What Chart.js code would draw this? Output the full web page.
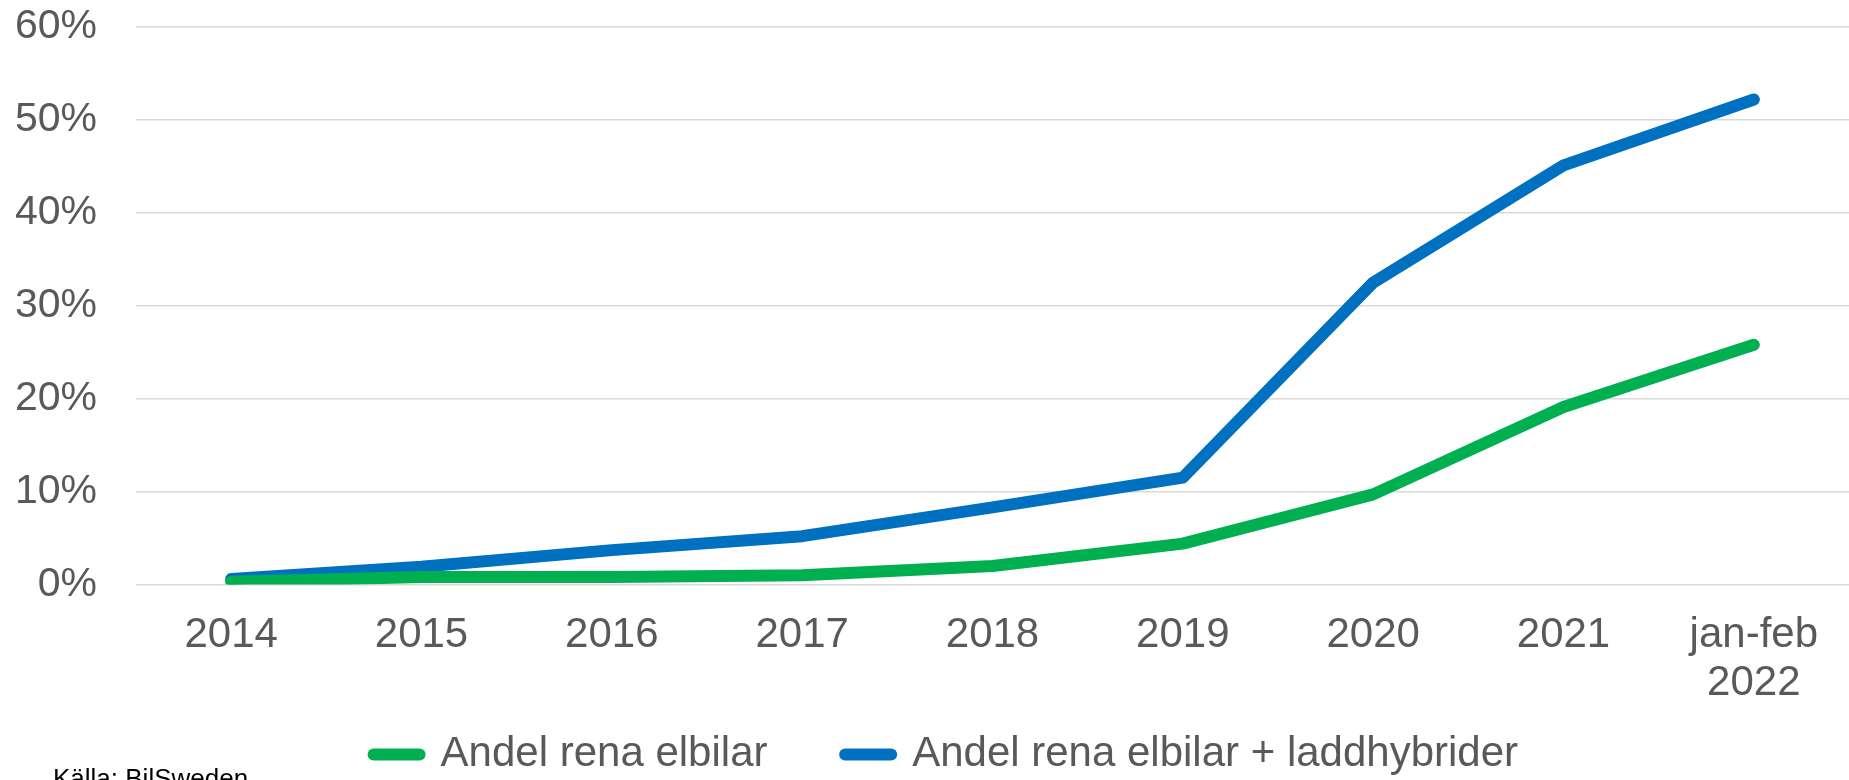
<!DOCTYPE html>
<html>
<head>
<meta charset="utf-8">
<script src="https://cdn.jsdelivr.net/npm/chart.js@4"></script>
<style>
  html, body { margin: 0; padding: 0; background: #fff; }
  #wrap { width: 1849px; height: 780px; position: relative; }
</style>
</head>
<body>
<div id="wrap"><canvas id="myChart" width="1849" height="780"></canvas></div>
<script>
// categories
const years = ['2014', '2015', '2016', '2017', '2018', '2019', '2020', '2021', ['jan-feb', '2022']];
// share of new cars, percent
const elbilar = [0.3, 0.8, 0.8, 1.0, 2.0, 4.4, 9.7, 19.1, 25.8];
const elbilarLaddhybrider = [0.6, 1.9, 3.7, 5.2, 8.3, 11.5, 32.5, 45.1, 52.2];
const seriesNames = ['Andel rena elbilar', 'Andel rena elbilar + laddhybrider'];
const yTicks = [0, 10, 20, 30, 40, 50, 60];
const source = 'Källa: BilSweden';

const grey = '#595959';
const sans = '"Liberation Sans", Arial, sans-serif';

// source note sits under the legend, half cut off by the bottom edge
const sourceNote = {
    id: 'sourceNote',
    afterDraw(chart) {
        const ctx = chart.ctx;
        ctx.save();
        ctx.font = '26px ' + sans;
        ctx.fillStyle = '#000';
        ctx.textBaseline = 'alphabetic';
        ctx.fillText(source, 53, 787);
        ctx.restore();
    }
};

function lineSeries(label, data, color) {
    return {
        label: label,
        data: data,
        borderColor: color,
        backgroundColor: color,
        borderWidth: 12,
        borderCapStyle: 'round',
        borderJoinStyle: 'round',
        pointRadius: 0,
        pointStyle: 'line',
        tension: 0
    };
}

let myChart = new Chart(document.getElementById('myChart').getContext('2d'), {
    type: 'line',
    data: {
        labels: years,
        datasets: [
            lineSeries(seriesNames[0], elbilar, '#00B050'),
            lineSeries(seriesNames[1], elbilarLaddhybrider, '#0070C0')
        ]
    },
    options: {
        responsive: false,
        animation: false,
        layout: { padding: { top: 27, right: 0, bottom: -5.5, left: 0 } },
        plugins: {
            tooltip: { enabled: false },
            legend: {
                position: 'bottom',
                fullSize: false,
                labels: {
                    usePointStyle: true,
                    pointStyleWidth: 46,
                    padding: 31,
                    color: grey,
                    font: { family: sans, size: 42 },
                    // labels.padding also sets the vertical spacing, so the gap
                    // between entries (and the centring) is tuned with spaces
                    generateLabels(chart) {
                        const items = Chart.defaults.plugins.legend.labels.generateLabels(chart);
                        items.forEach(item => { item.lineCap = 'round'; });
                        items[0].text += '    ';
                        items[1].text += '        ';
                        return items;
                    }
                }
            }
        },
        scales: {
            x: {
                offset: true,
                grid: { display: false, drawTicks: false },
                border: { display: false },
                ticks: {
                    padding: 27,
                    color: grey,
                    maxRotation: 0,
                    font: { family: sans, size: 42, lineHeight: 1.14 }
                },
                afterFit(scale) { scale.height = 118; }
            },
            y: {
                min: 0,
                max: 60,
                afterBuildTicks(scale) { scale.ticks = yTicks.map(v => ({ value: v })); },
                grid: { color: '#D9D9D9', lineWidth: 1.5, drawTicks: false },
                border: { display: false },
                ticks: {
                    padding: 39,
                    color: grey,
                    font: { family: sans, size: 41 },
                    callback: v => v + '%'
                },
                // fixed width, and don't let the tick padding push the plot down
                afterFit(scale) {
                    scale.width = 136;
                    scale.paddingTop = 0;
                    scale.paddingBottom = 0;
                }
            }
        }
    },
    plugins: [sourceNote]
});
</script>
</body>
</html>
